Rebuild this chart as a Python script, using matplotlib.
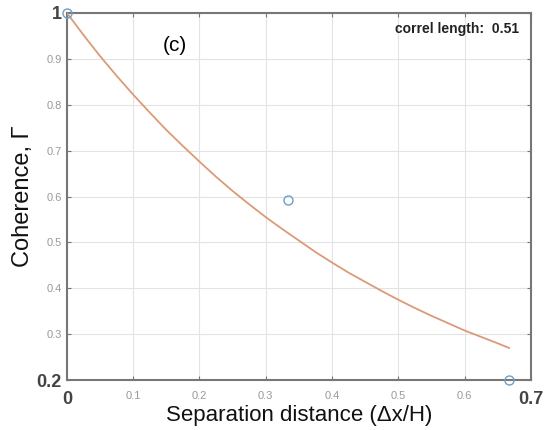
import numpy as np
import matplotlib.pyplot as plt

# measured coherence
x_obs = [0.0, 0.333, 0.667]
y_obs = [1.0, 0.592, 0.200]

# fitted curve
x_fit = [0.0, 0.025, 0.05, 0.075, 0.1, 0.125, 0.15, 0.175, 0.2, 0.225, 0.25, 0.275,
         0.3, 0.325, 0.35, 0.375, 0.4, 0.425, 0.45, 0.475, 0.5, 0.525, 0.55,
         0.575, 0.6, 0.625, 0.65, 0.667]
y_fit = [1.0, 0.952, 0.906, 0.863, 0.822, 0.783, 0.745, 0.710, 0.676, 0.643, 0.612,
         0.583, 0.555, 0.529, 0.504, 0.479, 0.456, 0.434, 0.414, 0.394, 0.375,
         0.357, 0.340, 0.324, 0.308, 0.294, 0.280, 0.270]

xticks = [0, 0.1, 0.2, 0.3, 0.4, 0.5, 0.6, 0.7]
yticks = [0.2, 0.3, 0.4, 0.5, 0.6, 0.7, 0.8, 0.9, 1.0]
xticklabels = ['0', '0.1', '0.2', '0.3', '0.4', '0.5', '0.6', '0.7']
yticklabels = ['0.2', '0.3', '0.4', '0.5', '0.6', '0.7', '0.8', '0.9', '1']

plt.rcParams['font.family'] = ['Liberation Sans', 'DejaVu Sans']

fig = plt.figure(figsize=(5.48, 4.3), dpi=100)
ax = fig.add_axes([0.122, 0.116, 0.847, 0.854])

ax.plot(x_fit, y_fit, color='#dc9a78', lw=1.3, zorder=3)
ax.plot(x_obs, y_obs, 'o', mfc='none', mec='#6a9fc9', ms=6.5, mew=1.0,
        clip_on=False, zorder=4)

ax.set_xlim(0, 0.7)
ax.set_ylim(0.2, 1.0)
ax.set_xticks(xticks)
ax.set_yticks(yticks)
ax.set_xticklabels(xticklabels)
ax.set_yticklabels(yticklabels)

# end labels bigger and darker, inner ones small and grey
for lbls in (ax.get_xticklabels(), ax.get_yticklabels()):
    for i, t in enumerate(lbls):
        if i == 0 or i == len(lbls) - 1:
            t.set_fontsize(13)
            t.set_color('#444444')
            t.set_fontweight('bold')
        else:
            t.set_fontsize(8)
            t.set_color('#999999')

ax.grid(True, color='#e3e3e3', lw=0.8)
ax.set_axisbelow(True)
ax.tick_params(axis='x', pad=8)
ax.tick_params(direction='in', top=True, right=True, length=3,
               color='#777777', width=0.8)
for s in ax.spines.values():
    s.set_color('#777777')
    s.set_linewidth(1.5)

ax.set_xlabel('Separation distance (\u0394x/H)', fontsize=16, labelpad=-2,
              color='#111111')
ax.set_ylabel('Coherence, \u0393', fontsize=17, labelpad=2, color='#111111')

ax.text(0.163, 0.93, '(c)', fontsize=15, ha='center', va='center')
ax.text(0.975, 0.975, 'correl length:  0.51', transform=ax.transAxes,
        fontsize=10, fontweight='bold', ha='right', va='top', color='#222222')

fig.savefig('out.png', dpi=100)
